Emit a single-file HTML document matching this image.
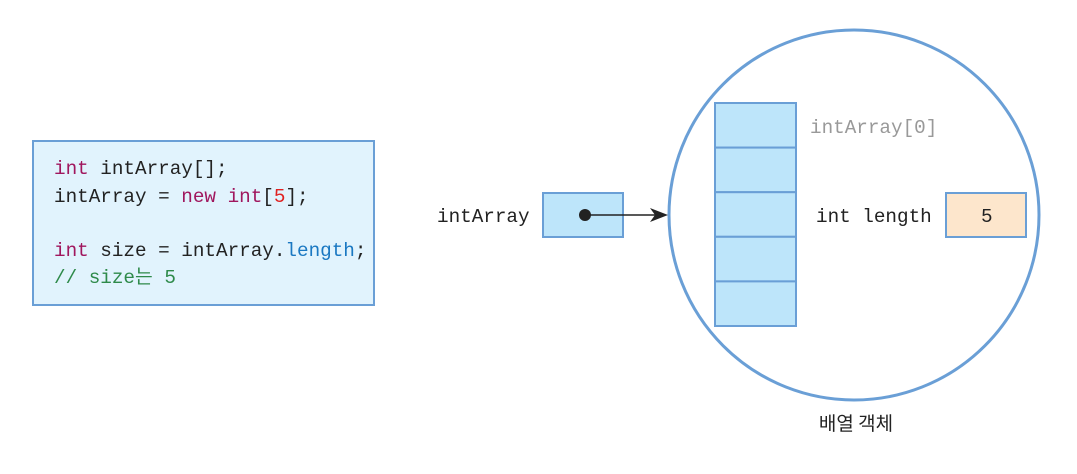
<!DOCTYPE html>
<html><head><meta charset="utf-8"><style>
body{margin:0;width:1077px;height:474px;background:#fff;overflow:hidden}
</style></head><body>
<svg width="1077" height="474" xmlns="http://www.w3.org/2000/svg" style="position:absolute;left:0;top:0">
<rect x="33" y="141" width="341" height="164" fill="#e1f3fd" stroke="#6a9fd6" stroke-width="2"/>
<circle cx="854" cy="215" r="185" fill="none" stroke="#6a9fd6" stroke-width="3"/>
<rect x="543" y="193" width="80" height="44" fill="#bde5fa" stroke="#6a9fd6" stroke-width="2"/>
<g fill="#bde5fa" stroke="#6a9fd6" stroke-width="2">
<rect x="715" y="103" width="81" height="44.6"/>
<rect x="715" y="147.6" width="81" height="44.6"/>
<rect x="715" y="192.2" width="81" height="44.6"/>
<rect x="715" y="236.8" width="81" height="44.6"/>
<rect x="715" y="281.4" width="81" height="44.6"/>
</g>
<rect x="946" y="193" width="80" height="44" fill="#fde6cc" stroke="#6a9fd6" stroke-width="2"/>
<g font-family="Liberation Mono, Noto Sans CJK KR, monospace" font-size="19.3" fill="#222">
<text x="54" y="174"><tspan fill="#a0175e">int</tspan> intArray[];</text>
<text x="54" y="202">intArray = <tspan fill="#a0175e">new</tspan> <tspan fill="#a0175e">int</tspan>[<tspan fill="#e02020">5</tspan>];</text>
<text x="54" y="256"><tspan fill="#a0175e">int</tspan> size = intArray.<tspan fill="#1a78c2">length</tspan>;</text>
<text x="54" y="283" fill="#2e8a4a">// size<tspan font-family="Noto Sans CJK KR, sans-serif">는</tspan> 5</text>
<text x="437" y="222">intArray</text>
<text x="810" y="133" fill="#999">intArray[0]</text>
<text x="816" y="222">int length</text>
<text x="981" y="222">5</text>
</g>
<circle cx="585" cy="215" r="6" fill="#222"/>
<line x1="585" y1="215" x2="660" y2="215" stroke="#222" stroke-width="1.5"/>
<path d="M668 215 L650 208 L655 215 L650 222 Z" fill="#222"/>
<text x="856" y="430" text-anchor="middle" font-family="Noto Sans CJK KR, sans-serif" font-size="19" fill="#222">배열 객체</text>
</svg>
</body></html>
